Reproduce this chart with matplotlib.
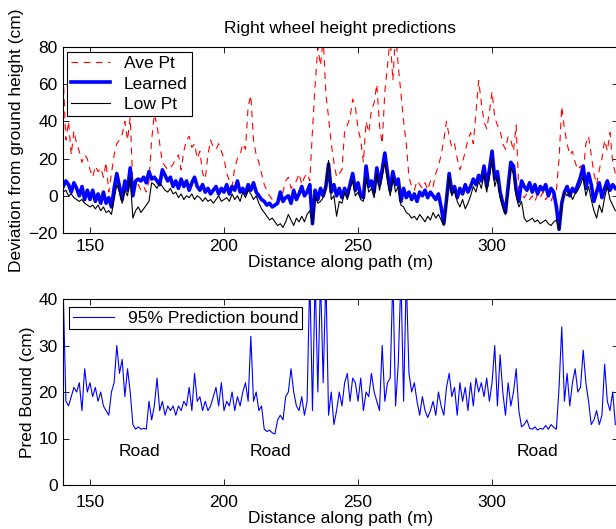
import numpy as np
import matplotlib
matplotlib.use("Agg")
import matplotlib.pyplot as plt

plt.rcParams['font.family'] = ['Liberation Sans', 'DejaVu Sans']
plt.rcParams['font.size'] = 12.5

distance = np.arange(140, 347)

learned = [5, 8, 6, 2, 7, 4, 0, 5, -2, 3,
           -2, 3, -3, 1, -4, 2, -4, -1, -6, 4,
           12, 5, -2, 8, 3, 15, 0, 8, 9, 8,
           10, 7, 13, 9, 10, 8, 6, 14, 11, 8,
           10, 5, 8, 4, 9, 5, 8, 3, 7, 10,
           5, 3, 6, 2, 4, 1, 3, 5, 1, 4,
           2, 6, 1, 5, 3, 8, 2, 4, 1, 6,
           3, 7, 2, 0, -2, -3, -5, -4, -6, -5,
           -4, 2, -3, -1, 0, -4, 3, -2, 1, 5,
           0, 2, 6, -15, 3, -2, 4, 0, 5, 17,
           2, 6, 0, 4, -1, 4, 0, 6, 12, 3,
           7, 0, -1, 16, 5, 8, 2, 15, 6, 14,
           23, 12, 3, 13, 6, 9, -3, 4, -1, 2,
           -2, 1, -3, 2, 0, 3, -1, 2, 0, -2,
           1, -6, -15, -2, 12, 2, 5, -1, 4, 1,
           6, 2, 5, 9, 6, 11, 8, 16, 5, 14,
           24, 9, 13, 2, -4, -9, 5, 18, 16, 3,
           -3, 8, 5, 3, 7, 2, 6, 1, 5, 3,
           6, 0, 4, 2, -6, -18, -4, 2, 5, 0,
           4, 2, 6, 10, 16, 4, 12, 6, -3, 2,
           7, -1, 4, 8, 3, 6, 4]

low_pt = [2, 3, 0, 1, -1, -2, -3, -2, -4, -5,
          -6, -5, -7, -5, -8, -6, -9, -8, -10, -2,
          6, 2, -4, 3, 0, 10, -12, -8, -6, -9,
          -7, -5, -3, 7, 6, 4, 7, 5, 3, 2,
          4, 1, 2, -1, 1, -2, 0, -1, 1, -2,
          0, -1, -3, -1, -3, -2, -4, -2, 0, -3,
          -2, -1, -3, 1, -2, 0, -3, 2, -1, 3,
          1, -2, 0, -4, -7, -9, -11, -13, -12, -14,
          -16, -15, -17, -14, -10, -13, -16, -12, -14, -11,
          -14, -10, -8, -15, 0, -4, -3, -1, 4, 19,
          -2, 0, -11, -3, -4, 2, -2, 4, 8, 0,
          2, -2, -3, 10, 2, 4, -1, 12, 3, 10,
          18, 8, 0, 10, 2, 5, -5, -6, -9, -10,
          -12, -11, -13, -10, -12, -14, -11, -13, -9, -12,
          -10, -13, -16, -4, 10, 0, 3, -3, -6, -2,
          -7, -4, 0, 5, 2, 8, 4, 12, 2, 10,
          20, 5, 10, -1, -6, -10, 2, 15, 12, 0,
          -6, -3, -12, -14, -13, -12, -14, -13, -15, -14,
          -13, -15, -16, -14, -13, -18, -5, 2, 0, 2,
          -2, 1, 3, 6, 10, 0, 5, -2, -8, -12,
          -5, -9, -1, 5, -2, -5, -8]

ave_pt = [65, 30, 40, 22, 35, 28, 24, 18, 22, 20,
          14, 10, 16, 13, 15, 10, 18, 2, 12, 22,
          28, 30, 33, 40, 30, 42, 5, 8, 6, 3,
          5, 2, 8, 30, 44, 38, 28, 18, 16, 14,
          15, 17, 20, 22, 14, 24, 30, 32, 26, 28,
          20, 24, 12, 9, 22, 30, 26, 25, 28, 24,
          20, 12, 8, 5, 15, 20, 22, 28, 25, 48,
          54, 30, 22, 18, 12, 6, 3, 0, -2, -3,
          -4, -2, 2, 8, 10, 4, 6, 8, 12, 6,
          10, 12, 8, 35, 60, 80, 70, 85, 55, 42,
          28, 18, 10, 12, 14, 35, 38, 42, 52, 48,
          36, 30, 18, 40, 34, 46, 50, 60, 38, 28,
          56, 70, 85, 62, 88, 70, 55, 40, 28, 10,
          5, 3, 8, 6, 4, 7, 3, 8, 5, 12,
          16, 22, 30, 40, 32, 26, 28, 20, 14, 18,
          24, 30, 34, 28, 45, 62, 50, 40, 36, 45,
          56, 42, 38, 35, 28, 25, 32, 30, 24, 38,
          2, 0, -1, 1, -2, 0, -3, 1, -1, 2,
          -2, 0, -3, 1, 3, 20, 48, 36, 28, 22,
          24, 18, 14, 16, 12, 28, 32, 22, 12, 6,
          14, 20, 30, 24, 34, 18, 12]

pred_bound = [42, 18, 17, 19, 21, 20, 22, 16, 25, 20,
              22, 19, 21, 18, 20, 17, 16, 15, 20, 22,
              30, 24, 27, 19, 25, 20, 13, 12, 12.5, 12,
              12.2, 12, 18, 14, 17, 23, 16, 18, 15, 17,
              16, 17, 15, 17, 16, 18, 17, 21, 16, 24,
              18, 19, 16, 18, 16, 17, 19, 21, 17, 22,
              16, 18, 17, 20, 16, 19, 17, 20, 22, 18,
              32, 18, 20, 16, 17, 12, 11.5, 11.8, 11.2, 11,
              14, 15, 14, 19, 20, 25, 20, 17, 16, 19,
              15, 18, 45, 16, 45, 20, 45, 22, 45, 15,
              20, 13, 16, 20, 17, 22, 24, 18, 23, 22,
              18, 23, 16, 20, 19, 24, 20, 18, 16, 30,
              18, 22, 23, 45, 17, 26, 45, 18, 45, 24,
              20, 22, 18, 15, 19, 16, 14.5, 16, 18, 15,
              20, 17, 15, 21, 24, 19, 21, 15, 22, 18,
              21, 16, 22, 17, 23, 20, 22, 19, 23, 18,
              22, 30, 17, 28, 20, 15, 22, 17, 20, 25,
              16, 12.5, 13, 14, 12.2, 12, 12.5, 11.8, 12.2, 12,
              12.8, 12, 13, 12.4, 12, 21, 34, 18, 24, 17,
              22, 25, 20, 21, 29, 22, 18, 13, 14, 16,
              13, 15, 26, 18, 16, 20, 13]

road_labels = ["Road", "Road", "Road"]
road_x = [168.5, 217.5, 317]
road_y = [7.1, 7.1, 7.1]

x_ticks = [150, 200, 250, 300]

fig = plt.figure(figsize=(6.16, 5.29), dpi=100)
left = 63.2 / 616
width = (617.5 - 63.2) / 616
ax1 = fig.add_axes([left, (529 - 233) / 529, width, 186 / 529])
ax2 = fig.add_axes([left, (529 - 485) / 529, width, 186 / 529])

ax1.plot(distance, ave_pt, color='red', lw=0.8, dashes=(6, 5), label='Ave Pt')
ax1.plot(distance, learned, color='blue', lw=2.6, label='Learned')
ax1.plot(distance, low_pt, color='black', lw=0.8, label='Low Pt')
ax1.set_xlim(140, 346.8)
ax1.set_ylim(-20, 80)
ax1.set_yticks([-20, 0, 20, 40, 60, 80])
ax1.set_xticks(x_ticks)
ax1.set_title('Right wheel height predictions', fontsize=12.5, pad=10)
ax1.set_xlabel('Distance along path (m)', labelpad=1)
ax1.set_ylabel('Deviation from ground height (cm)', labelpad=3)
leg1 = ax1.legend(loc='upper left', bbox_to_anchor=(0.007, 0.975), borderaxespad=0,
                  fancybox=False, edgecolor='black', framealpha=1,
                  handlelength=2.2, handletextpad=0.8, labelspacing=0.3,
                  borderpad=0.25)
leg1.get_frame().set_linewidth(0.8)

ax2.plot(distance, pred_bound, color='blue', lw=0.8, label='95% Prediction bound')
for lbl, rx, ry in zip(road_labels, road_x, road_y):
    ax2.text(rx, ry, lbl, ha='center', va='center', fontsize=12.5)
ax2.set_xlim(140, 346.8)
ax2.set_ylim(0, 40)
ax2.set_yticks([0, 10, 20, 30, 40])
ax2.set_xticks(x_ticks)
ax2.set_xlabel('Distance along path (m)', labelpad=1)
ax2.set_ylabel('Pred Bound (cm)', labelpad=2)
leg2 = ax2.legend(loc='upper left', bbox_to_anchor=(0.011, 0.957), borderaxespad=0,
                  fancybox=False, edgecolor='black', framealpha=1,
                  handlelength=2.4, handletextpad=0.8, borderpad=0.2)
leg2.get_frame().set_linewidth(0.8)

ax1.tick_params(axis='x', pad=4)
ax2.tick_params(axis='x', pad=7)
for ax in (ax1, ax2):
    ax.tick_params(direction='in', top=True, right=True, length=4, width=0.6)
    ax.tick_params(axis='y', pad=4)
    for s in ax.spines.values():
        s.set_linewidth(0.8)

fig.savefig('out.png', dpi=100)
